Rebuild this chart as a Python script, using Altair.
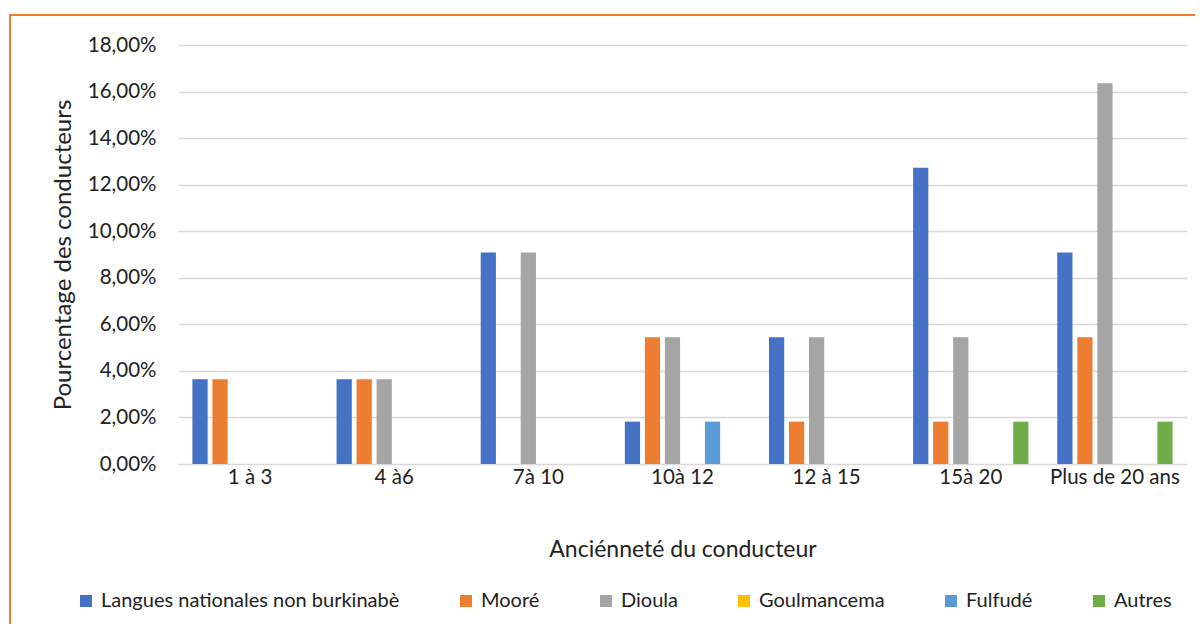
import altair as alt
import pandas as pd

categories = ["1 à 3", "4 à6", "7à 10", "10à 12", "12 à 15", "15à 20", "Plus de 20 ans"]
series = ["Langues nationales non burkinabè", "Mooré", "Dioula", "Goulmancema", "Fulfudé", "Autres"]
colors = ["#4472C4", "#ED7D31", "#A5A5A5", "#FFC000", "#5B9BD5", "#70AD47"]

langues = [3.64, 3.64, 9.09, 1.82, 5.45, 12.73, 9.09]
moore = [3.64, 3.64, 0.0, 5.45, 1.82, 1.82, 5.45]
dioula = [0.0, 3.64, 9.09, 5.45, 5.45, 5.45, 16.36]
goulmancema = [0.0, 0.0, 0.0, 0.0, 0.0, 0.0, 0.0]
fulfude = [0.0, 0.0, 0.0, 1.82, 0.0, 0.0, 0.0]
autres = [0.0, 0.0, 0.0, 0.0, 0.0, 1.82, 1.82]

values = [langues, moore, dioula, goulmancema, fulfude, autres]
rows = []
for s, vals in zip(series, values):
    for c, v in zip(categories, vals):
        rows.append({"cat": c, "serie": s, "val": v / 100.0})
df = pd.DataFrame(rows)

W, H = 1009, 419
PAD_R, PAD_B = 8, 160
FONT = "Lato"
BORDER = "#ED7D31"

bars = alt.Chart(df).mark_bar().encode(
    x=alt.X("cat:N", sort=categories,
            scale=alt.Scale(paddingInner=0.2, paddingOuter=0.1),
            axis=alt.Axis(title="Anciénneté du conducteur", labelAngle=0, ticks=False,
                          domain=False, labelPadding=3, labelFontSize=20.5,
                          titleFontSize=23, titleFontWeight="normal",
                          titleY=85, titleBaseline="middle")),
    xOffset=alt.XOffset("serie:N", sort=series, scale=alt.Scale(paddingInner=0.24)),
    y=alt.Y("val:Q", scale=alt.Scale(domain=[0, 0.18], nice=False),
            axis=alt.Axis(title="Pourcentage des conducteurs",
                          values=[0, 0.02, 0.04, 0.06, 0.08, 0.10, 0.12, 0.14, 0.16, 0.18],
                          labelExpr="replace(format(datum.value, '.2%'), '.', ',')",
                          ticks=False, domain=False, labelPadding=22, labelFontSize=20.5,
                          titleFontSize=24, titleFontWeight="normal",
                          titleX=-115, titleY=H / 2, titleBaseline="middle")),
    color=alt.Color("serie:N", sort=series,
                    scale=alt.Scale(domain=series, range=colors),
                    legend=alt.Legend(title=None, orient="none", direction="horizontal",
                                      legendX=-102, legendY=546, symbolType="square",
                                      symbolSize=144, symbolStrokeWidth=0,
                                      labelFontSize=20, labelOffset=5, labelLimit=0,
                                      columnPadding=56)),
)

one = pd.DataFrame({"a": [0]})
border_left = alt.Chart(one).mark_rule(color=BORDER, strokeWidth=2).encode(
    x=alt.value(-168), y=alt.value(-30), y2=alt.value(H + PAD_B),
)
border_top = alt.Chart(one).mark_rule(color=BORDER, strokeWidth=2).encode(
    x=alt.value(-169), x2=alt.value(W + PAD_R), y=alt.value(-30),
)

chart = alt.layer(bars, border_left, border_top).properties(
    width=W, height=H,
    autosize=alt.AutoSizeParams(type="none"),
    padding={"left": 170, "top": 37, "right": PAD_R, "bottom": PAD_B},
).configure_view(stroke=None).configure_axis(
    gridColor="#D9D9D9", gridWidth=1.3, labelColor="#222222", titleColor="#222222",
    labelFont=FONT, titleFont=FONT
).configure_legend(labelFont=FONT, labelColor="#222222")

chart.save("out.html", embed_options={"renderer": "svg", "actions": False})
